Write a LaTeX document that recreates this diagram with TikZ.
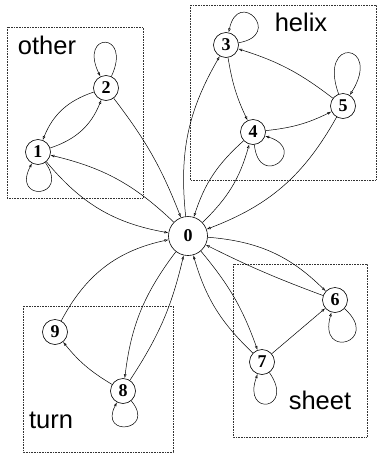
\documentclass[tikz,border=0pt]{standalone}
\usepackage{fontspec}
\setmainfont{Liberation Serif}
\newfontfamily\labelfont{Liberation Sans}
\usetikzlibrary{arrows.meta}
\begin{document}
\begin{tikzpicture}[x=1pt,y=1pt,
  state/.style={circle,draw,line width=0.6pt,inner sep=0pt,minimum size=25pt,
    font=\fontsize{18}{18}\selectfont\bfseries},
  hub/.style={state,minimum size=39pt},
  arr/.style={line width=0.5pt,-{Latex[open,length=4pt,width=2.8pt]}},
  region/.style={densely dotted,line width=0.6pt,black!80},
  tag/.style={font=\labelfont\fontsize{25.5}{25.5}\selectfont,inner sep=0pt}]
\useasboundingbox (0,0) rectangle (378,-453);

% dotted cluster frames and their names
\draw[region] (7,-27) rectangle (143,-198);
\draw[region] (190,-5) rectangle (376,-180);
\draw[region] (23,-306) rectangle (173,-452);
\draw[region] (233,-264) rectangle (367,-437);
\node[tag] (tother) at (47,-45) {other};
\node[tag] (thelix) at (301,-22) {helix};
\node[tag] (tturn) at (51,-420) {turn};
\node[tag] (tsheet) at (320,-400) {sheet};

% states
\node[hub]   (n0) at (188,-236) {0};
\node[state] (n1) at (38,-152) {1};
\node[state] (n2) at (106,-88) {2};
\node[state] (n3) at (226,-45) {3};
\node[state] (n4) at (253,-132) {4};
\node[state] (n5) at (343,-106) {5};
\node[state] (n6) at (335,-300) {6};
\node[state] (n7) at (262,-362) {7};
\node[state] (n8) at (123,-391) {8};
\node[state] (n9) at (55,-332) {9};

% other
\draw[arr] (n2) to[bend right=25] (n1);
\draw[arr] (n1) to[bend right=25] (n2);
\draw[arr] (n0) to[bend right=15] (n1);
\draw[arr] (n1) to[bend right=20] (n0);
\draw[arr] (n2) to[bend left=8] (n0);
\draw[arr] (n1) to[out=-55,in=-118,min distance=44pt] (n1);
\draw[arr] (n2) to[out=65,in=116,min distance=50pt] (n2);

% helix
\draw[arr] (n0) to[bend left=18] (n3);
\draw[arr] (n3) to[bend right=8] (n4);
\draw[arr] (n4) to[bend right=10] (n5);
\draw[arr] (n5) to[bend right=10] (n3);
\draw[arr] (n0) to[bend right=15] (n4);
\draw[arr] (n4) to[bend right=15] (n0);
\draw[arr] (n5) to[bend left=20] (n0);
\draw[arr] (n3) to[out=10,in=78,min distance=46pt] (n3);
\draw[arr] (n4) to[out=-84,in=-18,min distance=46pt] (n4);
\draw[arr] (n5) to[out=110,in=58,min distance=62pt] (n5);

% sheet
\draw[arr] (n0) to[bend left=20] (n6);
\draw[arr] (n6) to[bend left=3] (n0);
\draw[arr] (n0) to[bend left=10] (n7);
\draw[arr] (n7) to[bend left=15] (n0);
\draw[arr] (n7) to (n6);
\draw[arr] (n6) to[out=-42,in=-106,min distance=50pt] (n6);
\draw[arr] (n7) to[out=-55,in=-110,min distance=46pt] (n7);

% turn
\draw[arr] (n9) to[bend left=25] (n0);
\draw[arr] (n8) to[bend left=10] (n9);
\draw[arr] (n0) to[bend right=15] (n8);
\draw[arr] (n8) to[bend right=10] (n0);
\draw[arr] (n8) to[out=-50,in=-118,min distance=40pt] (n8);
\end{tikzpicture}
\end{document}
